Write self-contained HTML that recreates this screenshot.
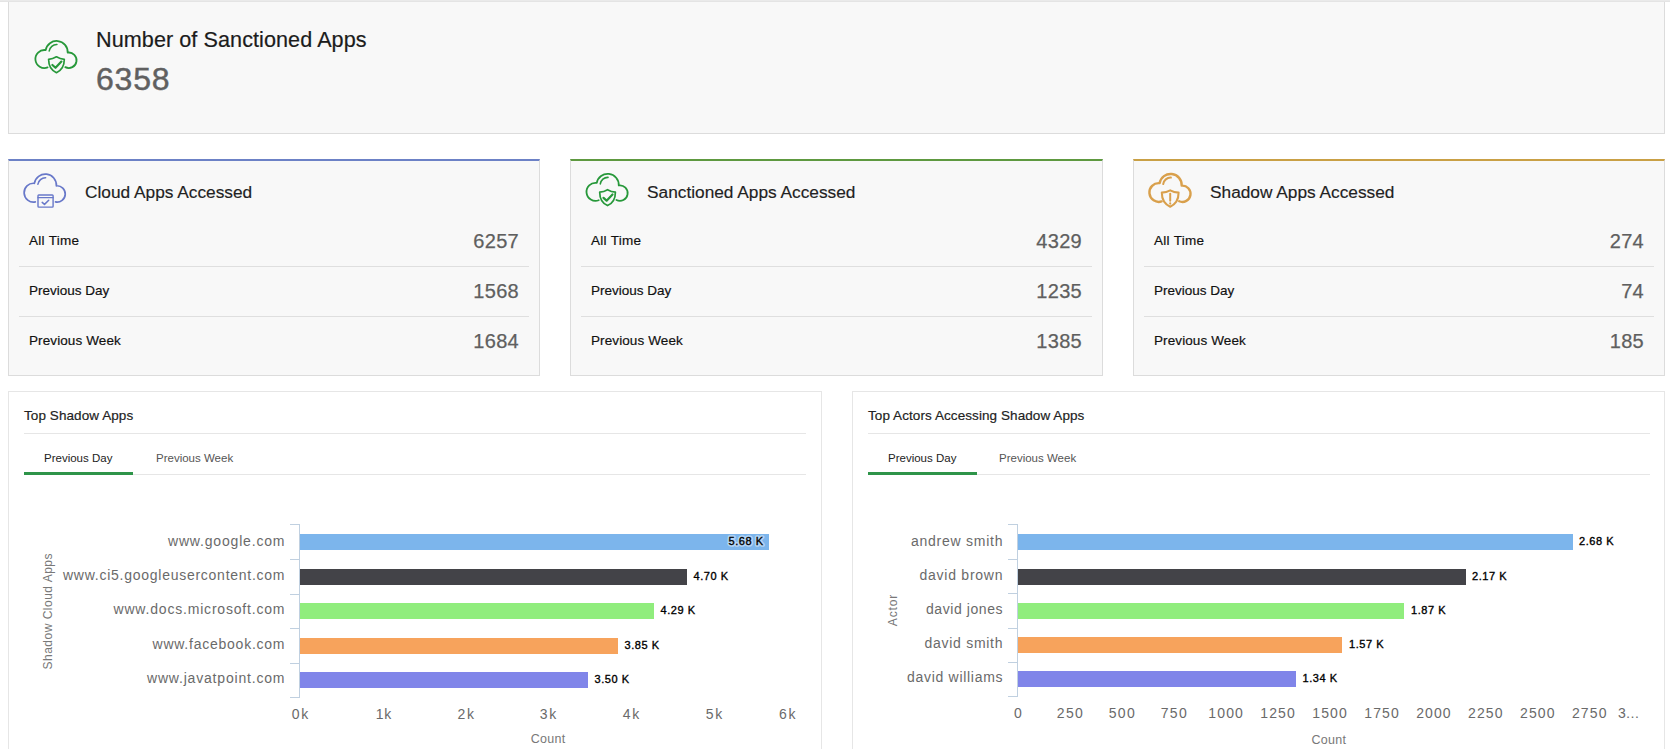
<!DOCTYPE html>
<html>
<head>
<meta charset="utf-8">
<title>Cloud Protection Dashboard</title>
<style>
html,body{margin:0;padding:0;}
body{width:1670px;height:749px;overflow:hidden;background:#fff;position:relative;font-family:"Liberation Sans",sans-serif;color:#222;}
.abs{position:absolute;}
.t{position:absolute;white-space:nowrap;line-height:1;}
.strip{left:0;top:0;width:1670px;height:1px;background:#eaeaea;border-bottom:1px solid #e4e4e4;}
.toppanel{left:8px;top:0;width:1657px;height:134px;box-sizing:border-box;border:1px solid #dcdcdc;background:#f8f8f8;}
.card{top:159px;height:217px;box-sizing:border-box;border:1px solid #dcdcdc;border-top:2px solid #6c81c6;background:#f8f8f8;}
.card .sep{position:absolute;left:10px;right:10px;height:1px;background:#dfdfdf;}
.ctitle{font-size:17.3px;color:#222;-webkit-text-stroke:0.15px #222;}
.lbl{font-size:13.5px;color:#111;-webkit-text-stroke:0.18px #111;}
.num{font-size:20px;color:#5f5f5f;text-align:right;letter-spacing:0.3px;-webkit-text-stroke:0.25px #5f5f5f;}
.panel{top:391px;height:400px;box-sizing:border-box;border:1px solid #e6e6e6;background:#fff;}
.ptitle{font-size:13.5px;color:#222;letter-spacing:0.08px;-webkit-text-stroke:0.18px #222;}
.hsep{position:absolute;height:1px;background:#e6e6e6;}
.tab{font-size:11.5px;color:#222;}
.tab.off{color:#555;}
.gline{position:absolute;height:3px;background:#2e9449;}
svg{position:absolute;left:0;top:0;overflow:visible;}
svg text{font-family:"Liberation Sans",sans-serif;}
</style>
</head>
<body>

<!-- top summary panel -->
<div class="abs toppanel"></div>
<div class="abs strip"></div>
<div class="t" id="t_title" style="left:96px;top:29px;font-size:21.6px;letter-spacing:0.07px;color:#1c1c1c;-webkit-text-stroke:0.2px #1c1c1c;">Number of Sanctioned Apps</div>
<div class="t" id="t_big" style="left:96px;top:63px;font-size:32px;letter-spacing:0.8px;color:#606060;-webkit-text-stroke:0.45px #606060;">6358</div>

<!-- card 1 -->
<div class="abs card" style="left:8px;width:532px;border-top-color:#6c81c6;">
  <div class="sep" style="top:105px;"></div>
  <div class="sep" style="top:155px;"></div>
</div>
<div class="t ctitle" style="left:85px;top:184px;">Cloud Apps Accessed</div>
<div class="t lbl" style="left:29px;top:234px;letter-spacing:0.3px;">All Time</div>
<div class="t lbl" style="left:29px;top:284px;">Previous Day</div>
<div class="t lbl" style="left:29px;top:334px;letter-spacing:0.1px;">Previous Week</div>
<div class="t num" style="left:419px;width:100px;top:231px;">6257</div>
<div class="t num" style="left:419px;width:100px;top:281px;">1568</div>
<div class="t num" style="left:419px;width:100px;top:331px;">1684</div>

<!-- card 2 -->
<div class="abs card" style="left:570px;width:533px;border-top-color:#5e9940;">
  <div class="sep" style="top:105px;"></div>
  <div class="sep" style="top:155px;"></div>
</div>
<div class="t ctitle" style="left:647px;top:184px;">Sanctioned Apps Accessed</div>
<div class="t lbl" style="left:591px;top:234px;letter-spacing:0.3px;">All Time</div>
<div class="t lbl" style="left:591px;top:284px;">Previous Day</div>
<div class="t lbl" style="left:591px;top:334px;letter-spacing:0.1px;">Previous Week</div>
<div class="t num" style="left:982px;width:100px;top:231px;">4329</div>
<div class="t num" style="left:982px;width:100px;top:281px;">1235</div>
<div class="t num" style="left:982px;width:100px;top:331px;">1385</div>

<!-- card 3 -->
<div class="abs card" style="left:1133px;width:532px;border-top-color:#c9a045;">
  <div class="sep" style="top:105px;"></div>
  <div class="sep" style="top:155px;"></div>
</div>
<div class="t ctitle" style="left:1210px;top:184px;">Shadow Apps Accessed</div>
<div class="t lbl" style="left:1154px;top:234px;letter-spacing:0.3px;">All Time</div>
<div class="t lbl" style="left:1154px;top:284px;">Previous Day</div>
<div class="t lbl" style="left:1154px;top:334px;letter-spacing:0.1px;">Previous Week</div>
<div class="t num" style="left:1544px;width:100px;top:231px;">274</div>
<div class="t num" style="left:1544px;width:100px;top:281px;">74</div>
<div class="t num" style="left:1544px;width:100px;top:331px;">185</div>

<!-- chart panel 1 -->
<div class="abs panel" style="left:8px;width:814px;"></div>
<div class="t ptitle" style="left:24px;top:409px;">Top Shadow Apps</div>
<div class="hsep" style="left:24px;width:782px;top:433px;"></div>
<div class="hsep" style="left:24px;width:782px;top:474px;"></div>
<div class="gline" style="left:24px;width:109px;top:472px;"></div>
<div class="t tab" style="left:44px;top:453px;">Previous Day</div>
<div class="t tab off" style="left:156px;top:453px;">Previous Week</div>

<!-- chart panel 2 -->
<div class="abs panel" style="left:852px;width:813px;"></div>
<div class="t ptitle" style="left:868px;top:409px;">Top Actors Accessing Shadow Apps</div>
<div class="hsep" style="left:868px;width:782px;top:433px;"></div>
<div class="hsep" style="left:868px;width:782px;top:474px;"></div>
<div class="gline" style="left:868px;width:109px;top:472px;"></div>
<div class="t tab" style="left:888px;top:453px;">Previous Day</div>
<div class="t tab off" style="left:999px;top:453px;">Previous Week</div>

<!-- ICONS_AND_CHARTS -->
<svg width="1670" height="749" viewBox="0 0 1670 749">
<g transform="translate(0,0)" fill="none" stroke="#27983a" stroke-width="1.8" stroke-linecap="round" stroke-linejoin="round"><path d="M 47.60 67.41 A 9.0 9.0 0 1 1 45.67 50.09 A 11.1 11.1 0 0 1 67.68 52.58 A 7.75 7.75 0 1 1 65.30 67.16"/><path d="M 49.2 51.0 A 7.5 7.5 0 0 1 56.9 44.5" stroke-width="1.6"/><path d="M 56.45 56.8 C 58.8 58.2 61.6 59.1 64.3 59.3 C 64.3 65.8 61.6 70.4 56.45 72.7 C 51.3 70.4 48.6 65.8 48.6 59.3 C 51.3 59.1 54.1 58.2 56.45 56.8 Z" stroke-width="1.7"/><path d="M 52.4 65.0 L 55.5 67.8 L 61.4 61.6" stroke-width="2.2"/></g>
<g transform="translate(-11.3,133.25)" fill="none" stroke="#6878c9" stroke-width="1.7" stroke-linecap="round" stroke-linejoin="round"><path d="M 46.60 68.63 A 9.4 9.4 0 1 1 45.67 50.04 A 11.1 11.1 0 0 1 67.69 52.53 A 8.15 8.15 0 1 1 66.80 68.64"/><path d="M 49.2 51.0 A 7.5 7.5 0 0 1 56.9 44.5" stroke-width="1.6"/><rect x="49.30" y="61.75" width="15.1" height="12.1" rx="0.8" stroke-width="1.4"/><path d="M 49.30 64.45 h 15.1" stroke-width="1.3"/><path d="M 53.50 69.15 l 2.3 2 l 4.2 -4.2" stroke-width="1.5"/></g>
<g transform="translate(551.1,132.85)" fill="none" stroke="#27983a" stroke-width="1.8" stroke-linecap="round" stroke-linejoin="round"><path d="M 47.60 67.41 A 9.0 9.0 0 1 1 45.67 50.09 A 11.1 11.1 0 0 1 67.68 52.58 A 7.75 7.75 0 1 1 65.30 67.16"/><path d="M 49.2 51.0 A 7.5 7.5 0 0 1 56.9 44.5" stroke-width="1.6"/><path d="M 56.45 56.8 C 58.8 58.2 61.6 59.1 64.3 59.3 C 64.3 65.8 61.6 70.4 56.45 72.7 C 51.3 70.4 48.6 65.8 48.6 59.3 C 51.3 59.1 54.1 58.2 56.45 56.8 Z" stroke-width="1.7"/><path d="M 52.4 65.0 L 55.5 67.8 L 61.4 61.6" stroke-width="2.2"/></g>
<g transform="translate(1114.0,133.1)" fill="none" stroke="#d9a04c" stroke-width="2.4" stroke-linecap="round" stroke-linejoin="round"><path d="M 47.60 68.37 A 9.4 9.4 0 1 1 45.67 50.04 A 11.1 11.1 0 0 1 67.69 52.53 A 8.15 8.15 0 1 1 65.20 68.15"/><path d="M 49.2 51.0 A 7.5 7.5 0 0 1 56.9 44.5" stroke-width="2"/><path d="M 56.2 57.3 C 58.6 58.6 61.8 59.4 64.6 59.5 C 64.6 66.2 61.8 71.2 56.2 73.6 C 50.6 71.2 47.8 66.2 47.8 59.5 C 50.6 59.4 53.8 58.6 56.2 57.3 Z" stroke-width="2.1"/><path d="M 56.2 60.6 V 67.6" stroke-width="2"/><path d="M 56.2 70.3 v 0.2" stroke-width="2.1"/></g>
<path d="M 299.5 524 V 698" stroke="#C0D0E0" stroke-width="1" fill="none"/>
<path d="M 290 524.5 H 300" stroke="#C0D0E0" stroke-width="1" fill="none"/>
<path d="M 290 559.5 H 300" stroke="#C0D0E0" stroke-width="1" fill="none"/>
<path d="M 290 594.5 H 300" stroke="#C0D0E0" stroke-width="1" fill="none"/>
<path d="M 290 628.5 H 300" stroke="#C0D0E0" stroke-width="1" fill="none"/>
<path d="M 290 663.5 H 300" stroke="#C0D0E0" stroke-width="1" fill="none"/>
<path d="M 290 697.5 H 300" stroke="#C0D0E0" stroke-width="1" fill="none"/>
<rect x="300" y="534" width="469" height="16" fill="#7cb5ec"/>
<rect x="300" y="569" width="387" height="16" fill="#434348"/>
<rect x="300" y="603" width="354" height="16" fill="#90ed7d"/>
<rect x="300" y="638" width="318" height="16" fill="#f7a35c"/>
<rect x="300" y="672" width="288" height="16" fill="#8085e9"/>
<text x="284.5" y="546" text-anchor="end" font-size="14" fill="#6a6a6a" textLength="116.5" lengthAdjust="spacing">www.google.com</text>
<text x="284.5" y="580" text-anchor="end" font-size="14" fill="#6a6a6a" textLength="221.5" lengthAdjust="spacing">www.ci5.googleusercontent.com</text>
<text x="284.5" y="614" text-anchor="end" font-size="14" fill="#6a6a6a" textLength="171" lengthAdjust="spacing">www.docs.microsoft.com</text>
<text x="284.5" y="649" text-anchor="end" font-size="14" fill="#6a6a6a" textLength="132" lengthAdjust="spacing">www.facebook.com</text>
<text x="284.5" y="683" text-anchor="end" font-size="14" fill="#6a6a6a" textLength="137.5" lengthAdjust="spacing">www.javatpoint.com</text>
<text x="728.5" y="545" font-size="11" fill="#bad8f5" stroke="#bad8f5" stroke-width="3.6" stroke-opacity="0.9" stroke-linejoin="round" textLength="34.5" lengthAdjust="spacing">5.68 K</text>
<text x="728.5" y="545" font-size="11" fill="#000" stroke="#000" stroke-width="0.35" textLength="34.5" lengthAdjust="spacing">5.68 K</text>
<text x="693.5" y="580" font-size="11" fill="#000" stroke="#000" stroke-width="0.35" textLength="34.5" lengthAdjust="spacing">4.70 K</text>
<text x="660.5" y="614" font-size="11" fill="#000" stroke="#000" stroke-width="0.35" textLength="34.5" lengthAdjust="spacing">4.29 K</text>
<text x="624.5" y="649" font-size="11" fill="#000" stroke="#000" stroke-width="0.35" textLength="34.5" lengthAdjust="spacing">3.85 K</text>
<text x="594.5" y="683" font-size="11" fill="#000" stroke="#000" stroke-width="0.35" textLength="34.5" lengthAdjust="spacing">3.50 K</text>
<text x="300" y="719" text-anchor="middle" font-size="14" fill="#6a6a6a" textLength="16.5" lengthAdjust="spacing">0k</text>
<text x="383.5" y="719" text-anchor="middle" font-size="14" fill="#6a6a6a" textLength="15.5" lengthAdjust="spacing">1k</text>
<text x="465.7" y="719" text-anchor="middle" font-size="14" fill="#6a6a6a" textLength="16.5" lengthAdjust="spacing">2k</text>
<text x="548.1" y="719" text-anchor="middle" font-size="14" fill="#6a6a6a" textLength="16.5" lengthAdjust="spacing">3k</text>
<text x="631" y="719" text-anchor="middle" font-size="14" fill="#6a6a6a" textLength="16.5" lengthAdjust="spacing">4k</text>
<text x="714" y="719" text-anchor="middle" font-size="14" fill="#6a6a6a" textLength="16.5" lengthAdjust="spacing">5k</text>
<text x="795.5" y="719" text-anchor="end" font-size="14" fill="#6a6a6a" textLength="16.5" lengthAdjust="spacing">6k</text>
<text x="548" y="743" text-anchor="middle" font-size="12.5" fill="#787878" textLength="34.5" lengthAdjust="spacing">Count</text>
<text transform="translate(52,611.5) rotate(-90)" text-anchor="middle" font-size="12" fill="#787878" textLength="116" lengthAdjust="spacing">Shadow Cloud Apps</text>
<path d="M 1017.5 524 V 697" stroke="#C0D0E0" stroke-width="1" fill="none"/>
<path d="M 1008 524.5 H 1018" stroke="#C0D0E0" stroke-width="1" fill="none"/>
<path d="M 1008 559.5 H 1018" stroke="#C0D0E0" stroke-width="1" fill="none"/>
<path d="M 1008 593.5 H 1018" stroke="#C0D0E0" stroke-width="1" fill="none"/>
<path d="M 1008 628.5 H 1018" stroke="#C0D0E0" stroke-width="1" fill="none"/>
<path d="M 1008 662.5 H 1018" stroke="#C0D0E0" stroke-width="1" fill="none"/>
<path d="M 1008 696.5 H 1018" stroke="#C0D0E0" stroke-width="1" fill="none"/>
<rect x="1018" y="534" width="555" height="16" fill="#7cb5ec"/>
<rect x="1018" y="569" width="448" height="16" fill="#434348"/>
<rect x="1018" y="603" width="386" height="16" fill="#90ed7d"/>
<rect x="1018" y="637" width="324" height="16" fill="#f7a35c"/>
<rect x="1018" y="671" width="278" height="16" fill="#8085e9"/>
<text x="1002.5" y="546" text-anchor="end" font-size="14" fill="#6a6a6a" textLength="91.5" lengthAdjust="spacing">andrew smith</text>
<text x="1002.5" y="580" text-anchor="end" font-size="14" fill="#6a6a6a" textLength="83" lengthAdjust="spacing">david brown</text>
<text x="1002.5" y="614" text-anchor="end" font-size="14" fill="#6a6a6a" textLength="76.5" lengthAdjust="spacing">david jones</text>
<text x="1002.5" y="648" text-anchor="end" font-size="14" fill="#6a6a6a" textLength="78" lengthAdjust="spacing">david smith</text>
<text x="1002.5" y="682" text-anchor="end" font-size="14" fill="#6a6a6a" textLength="95.5" lengthAdjust="spacing">david williams</text>
<text x="1579" y="545" font-size="11" fill="#000" stroke="#000" stroke-width="0.35" textLength="34.5" lengthAdjust="spacing">2.68 K</text>
<text x="1472" y="580" font-size="11" fill="#000" stroke="#000" stroke-width="0.35" textLength="34.5" lengthAdjust="spacing">2.17 K</text>
<text x="1411" y="614" font-size="11" fill="#000" stroke="#000" stroke-width="0.35" textLength="34.5" lengthAdjust="spacing">1.87 K</text>
<text x="1349" y="648" font-size="11" fill="#000" stroke="#000" stroke-width="0.35" textLength="34.5" lengthAdjust="spacing">1.57 K</text>
<text x="1302.5" y="682" font-size="11" fill="#000" stroke="#000" stroke-width="0.35" textLength="34.5" lengthAdjust="spacing">1.34 K</text>
<text x="1017.8" y="718" text-anchor="middle" font-size="14" fill="#6a6a6a" textLength="8.5" lengthAdjust="spacing">0</text>
<text x="1069.8" y="718" text-anchor="middle" font-size="14" fill="#6a6a6a" textLength="26" lengthAdjust="spacing">250</text>
<text x="1121.7" y="718" text-anchor="middle" font-size="14" fill="#6a6a6a" textLength="26" lengthAdjust="spacing">500</text>
<text x="1173.7" y="718" text-anchor="middle" font-size="14" fill="#6a6a6a" textLength="26" lengthAdjust="spacing">750</text>
<text x="1225.6" y="718" text-anchor="middle" font-size="14" fill="#6a6a6a" textLength="34.5" lengthAdjust="spacing">1000</text>
<text x="1277.5" y="718" text-anchor="middle" font-size="14" fill="#6a6a6a" textLength="34.5" lengthAdjust="spacing">1250</text>
<text x="1329.5" y="718" text-anchor="middle" font-size="14" fill="#6a6a6a" textLength="34.5" lengthAdjust="spacing">1500</text>
<text x="1381.5" y="718" text-anchor="middle" font-size="14" fill="#6a6a6a" textLength="34.5" lengthAdjust="spacing">1750</text>
<text x="1433.4" y="718" text-anchor="middle" font-size="14" fill="#6a6a6a" textLength="34.5" lengthAdjust="spacing">2000</text>
<text x="1485.3" y="718" text-anchor="middle" font-size="14" fill="#6a6a6a" textLength="34.5" lengthAdjust="spacing">2250</text>
<text x="1537.3" y="718" text-anchor="middle" font-size="14" fill="#6a6a6a" textLength="34.5" lengthAdjust="spacing">2500</text>
<text x="1589.2" y="718" text-anchor="middle" font-size="14" fill="#6a6a6a" textLength="34.5" lengthAdjust="spacing">2750</text>
<text x="1639.5" y="718" text-anchor="end" font-size="14" fill="#6a6a6a" textLength="21.5" lengthAdjust="spacing">3…</text>
<text x="1328.8" y="744" text-anchor="middle" font-size="12.5" fill="#787878" textLength="34.5" lengthAdjust="spacing">Count</text>
<text transform="translate(897,610.5) rotate(-90)" text-anchor="middle" font-size="12" fill="#787878" textLength="31.5" lengthAdjust="spacing">Actor</text>
</svg>
<!-- END_SVG -->

</body>
</html>
